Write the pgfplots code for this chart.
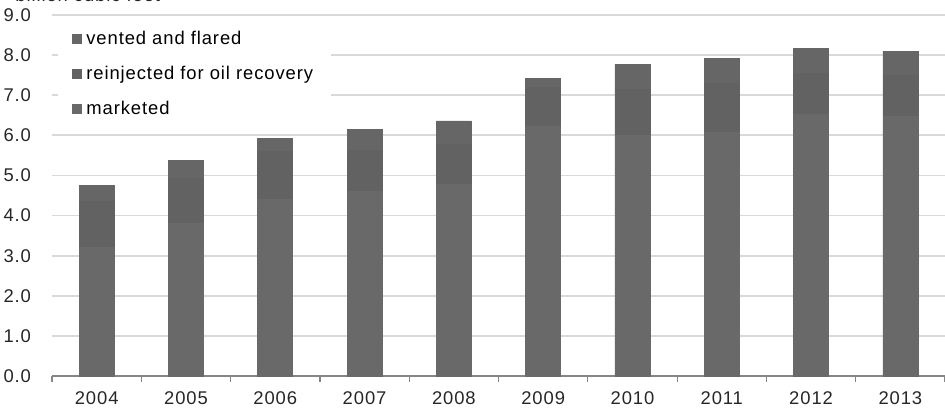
\documentclass[border=0pt]{standalone}
\usepackage{fontspec}
\setmainfont{Liberation Sans}[LetterSpace=5]
\usepackage{pgfplots}
\pgfplotsset{compat=1.18}
\definecolor{cmark}{HTML}{696969}
\definecolor{creinj}{HTML}{626262}
\definecolor{cvent}{HTML}{666666}
\definecolor{cgrid}{HTML}{D9D9D9}
\definecolor{caxis}{HTML}{868686}
\begin{document}
\fontsize{9.2}{10}\selectfont
\begin{tikzpicture}
\begin{axis}[
  at={(0,0)}, anchor=south west,
  scale only axis, width=446.5pt, height=180.5pt,
  ybar stacked, bar width=17.5pt,
  xmin=-0.5, xmax=9.5, ymin=0, ymax=9,
  xtick={0,...,9},
  xticklabels={2004,2005,2006,2007,2008,2009,2010,2011,2012,2013},
  minor xtick={-0.5,0.5,...,9.5},
  major x tick style={draw=none},
  minor x tick style={draw=caxis, line width=0.6pt},
  minor tick length=3pt,
  tick align=outside,
  ytick={0,1,...,9},
  yticklabel style={/pgf/number format/.cd, fixed, fixed zerofill, precision=1, /tikz/.cd, xshift=-3pt},
  /pgf/number format/assume math mode=true,
  major y tick style={draw=none},
  axis x line*=bottom, axis y line*=left,
  y axis line style={draw=none},
  x axis line style={draw=caxis, line width=0.8pt, -},
  ymajorgrids, grid style={cgrid, line width=0.9pt},
  xticklabel style={yshift=-0.3pt},
  tick label style={font=\fontsize{9.2}{10}\selectfont, text=black!85},
  legend style={at={(0.0067,0.985)}, anchor=north west, draw=none, fill=white,
    font=\fontsize{9.2}{10}\selectfont, row sep=5.6pt, inner xsep=7pt, inner ysep=3pt,
    legend cell align=left, /tikz/every even column/.append style={column sep=1pt}},
  reverse legend,
  legend image code/.code={\path[#1,draw=none] (0pt,-2.5pt) rectangle (5pt,2.5pt);},
  clip=false,
]
\addplot[fill=cmark, draw=cmark, line width=0.3pt] coordinates {(0,3.20) (1,3.81) (2,4.41) (3,4.60) (4,4.79) (5,6.22) (6,6.01) (7,6.07) (8,6.53) (9,6.47)};
\addplot[fill=creinj, draw=creinj, line width=0.3pt] coordinates {(0,1.15) (1,1.13) (2,1.19) (3,1.02) (4,0.99) (5,0.98) (6,1.14) (7,1.23) (8,1.02) (9,1.02)};
\addplot[fill=cvent, draw=cvent, line width=0.3pt] coordinates {(0,0.41) (1,0.43) (2,0.32) (3,0.52) (4,0.58) (5,0.22) (6,0.62) (7,0.62) (8,0.62) (9,0.61)};
\legend{marketed, reinjected for oil recovery, vented and flared}
\end{axis}
\node[anchor=base west, inner sep=0pt, text=black!85] at (-18.5pt,187.3pt) {billion cubic feet};
\pgfresetboundingbox
\useasboundingbox (-26pt,-16pt) rectangle (446.5pt,188pt);
\end{tikzpicture}
\end{document}
